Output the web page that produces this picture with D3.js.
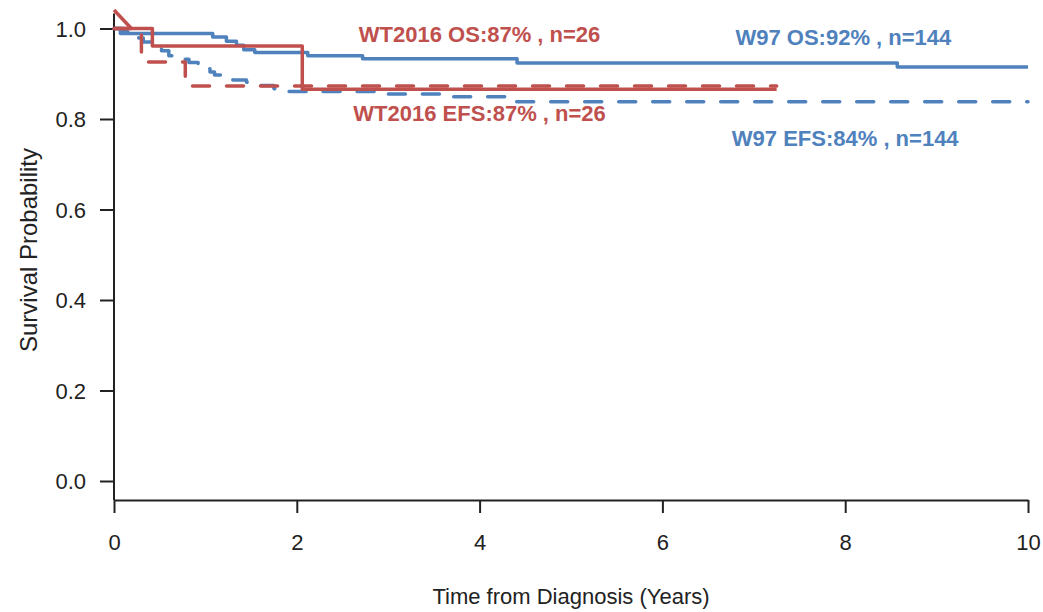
<!DOCTYPE html>
<html>
<head>
<meta charset="utf-8">
<script src="https://cdn.jsdelivr.net/npm/d3@7"></script>
<style>
  html, body { margin: 0; padding: 0; background: #fff; }
  svg { display: block; }
  text { font-family: "Liberation Sans", Arial, sans-serif; }
</style>
</head>
<body>
<svg id="chart" width="1043" height="612"></svg>
<script>
// ---- data (time in years, survival probability) ----
const w97OS = [[0,1.0],[0.07,0.989],[1.08,0.981],[1.23,0.972],[1.34,0.963],[1.42,0.953],[1.54,0.947],[2.12,0.940],[2.72,0.933],[4.41,0.924],[8.57,0.915],[10,0.915]];
const w97EFS = [[0,1.0],[0.1,0.993],[0.22,0.986],[0.27,0.979],[0.32,0.970],[0.45,0.962],[0.52,0.951],[0.6,0.940],[0.72,0.932],[0.82,0.925],[0.92,0.918],[1.0,0.911],[1.05,0.904],[1.1,0.897],[1.17,0.890],[1.3,0.886],[1.45,0.881],[1.6,0.874],[1.75,0.867],[1.88,0.861],[2.9,0.855],[3.71,0.849],[4.33,0.838],[10,0.838]];
const wt2016OS = [[0,1.0],[0.42,0.9615],[2.06,0.866],[7.25,0.866]];
const wt2016OSStart = [[0,1.041],[0.19,1.0]];
const wt2016EFS = [[0,1.0],[0.3,0.926],[0.78,0.873],[7.25,0.873]];
const xTicks = [0,2,4,6,8,10];
const yTicks = [0,0.2,0.4,0.6,0.8,1.0];
const labels = [
  {text:"WT2016 OS:87% , n=26", t:4.0, s:0.97, group:"wt"},
  {text:"WT2016 EFS:87% , n=26", t:4.0, s:0.795, group:"wt"},
  {text:"W97 OS:92% , n=144", t:7.98, s:0.963, group:"w97"},
  {text:"W97 EFS:84% , n=144", t:8.0, s:0.74, group:"w97"}
];

const RED = "#C0504D", BLUE = "#4F81BD", INK = "#222";
const svg = d3.select("#chart");
const x = d3.scaleLinear().domain([0,10]).range([114,1028]);
const y = d3.scaleLinear().domain([0,1]).range([481,28.5]);
const yBottom = -0.042, yTop = 1.033;

// axes
const xAxis = svg.append("g").attr("transform", `translate(0,${y(yBottom)})`)
  .call(d3.axisBottom(x).tickValues(xTicks).tickFormat(d3.format("d")).tickSize(13).tickSizeOuter(0));
const yAxis = svg.append("g").attr("transform", `translate(${x(0)},0)`)
  .call(d3.axisLeft(y).tickValues(yTicks).tickFormat(d3.format(".1f")).tickSize(14).tickSizeOuter(0));
yAxis.select(".domain").attr("d", `M0,${y(yBottom)}V${y(yTop)}`);
[xAxis, yAxis].forEach(g => {
  g.selectAll(".domain").attr("stroke", INK).attr("stroke-width", 2);
  g.selectAll(".tick line").attr("stroke", INK).attr("stroke-width", 2);
  g.selectAll(".tick text").attr("fill", INK).style("font-size", "22px")
    .style("font-family", "'Liberation Sans', Arial, sans-serif");
});
xAxis.selectAll(".tick text").attr("dy", null).attr("y", 50);
yAxis.selectAll(".tick text").attr("x", -28).attr("dy", "0.36em");

// axis titles
svg.append("text").attr("x", 571).attr("y", 604).attr("text-anchor", "middle")
  .attr("fill", INK).style("font-size", "22px").text("Time from Diagnosis (Years)");
svg.append("text").attr("transform", "translate(37,250) rotate(-90)").attr("text-anchor", "middle")
  .attr("fill", INK).style("font-size", "24px").text("Survival Probability");

// curves
const step = d3.line().x(d => x(d[0])).y(d => y(d[1])).curve(d3.curveStepAfter);
const lin = d3.line().x(d => x(d[0])).y(d => y(d[1]));
function draw(data, color, dashed, gen) {
  svg.append("path").attr("d", (gen || step)(data)).attr("fill", "none")
    .attr("stroke", color).attr("stroke-width", 3.5)
    .attr("stroke-linecap", dashed ? "round" : "butt")
    .attr("stroke-linejoin", "round")
    .attr("stroke-dasharray", dashed ? "17,17" : null);
}
draw(w97OS, BLUE, false);
draw(w97EFS, BLUE, true);
draw(wt2016EFS, RED, true);
draw(wt2016OS, RED, false);
draw(wt2016OSStart, RED, false, lin);

// annotations
svg.selectAll("text.lab").data(labels).enter().append("text").attr("class", "lab")
  .attr("x", d => x(d.t)).attr("y", d => y(d.s)).attr("text-anchor", "middle")
  .attr("fill", d => d.group === "wt" ? RED : BLUE)
  .style("font-size", "22px").style("font-weight", "bold").text(d => d.text);
</script>
</body>
</html>
